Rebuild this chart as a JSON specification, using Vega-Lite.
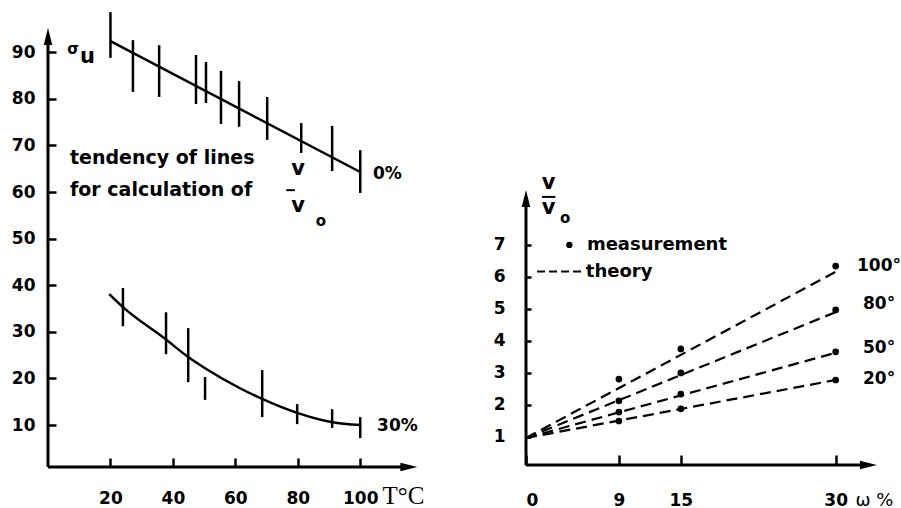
{
  "$schema": "https://vega.github.io/schema/vega-lite/v6.json",
  "background": "white",
  "padding": {"left": 11, "top": 10, "right": 0, "bottom": 0},
  "config": {
    "view": {"stroke": null},
    "axis": {"domain": false, "grid": false, "tickColor": "#000", "tickWidth": 2.5, "labelColor": "#000", "labelFont": "DejaVu Sans", "labelFontSize": 17, "labelFontWeight": "bold", "titleColor": "#000"}
  },
  "bounds": "flush",
  "spacing": 108,
  "hconcat": [
    {
      "width": 370,
      "height": 457,
      "encoding": {
        "x": {"field": "x", "type": "quantitative", "scale": {"domain": [0, 118.5], "nice": false, "zero": false},
          "axis": {"values": [20, 40, 60, 80, 100], "tickSize": -9, "labelPadding": 32, "title": "T°C", "titleFont": "Liberation Serif", "titleFontSize": 25, "titleFontWeight": "normal", "titleX": 334, "titleY": 28, "titleAlign": "left", "titleBaseline": "middle"}},
        "y": {"field": "y", "type": "quantitative", "scale": {"domain": [1, 99.06], "nice": false, "zero": false},
          "axis": {"values": [10, 20, 30, 40, 50, 60, 70, 80, 90], "tickSize": -8, "labelPadding": 21, "title": null}}
      },
      "layer": [
        {"data": {"values": [{"x": 0, "y": 1, "x2": 0, "y2": 92}, {"x": 0, "y": 1, "x2": 114, "y2": 1}]},
          "mark": {"type": "rule", "strokeWidth": 3, "color": "#000"},
          "encoding": {"x2": {"field": "x2"}, "y2": {"field": "y2"}}},
        {"data": {"values": [{"x": 0, "y": 95.2}]},
          "mark": {"type": "point", "filled": true, "opacity": 1, "color": "#000", "size": 289, "shape": "M0,0L0.5,2L-0.5,2Z"}},
        {"data": {"values": [{"x": 118.3, "y": 1}]},
          "mark": {"type": "point", "filled": true, "opacity": 1, "color": "#000", "size": 289, "shape": "M0,0L-2,-0.5L-2,0.5Z"}},
        {"data": {"values": [{"x": 20, "y": 92.4}, {"x": 100, "y": 64.3}]},
          "mark": {"type": "line", "color": "#000", "strokeWidth": 2.5}},
        {"data": {"values": [
            {"x": 19.6, "y": 38.1}, {"x": 24, "y": 35.3}, {"x": 37.5, "y": 28.5}, {"x": 44.9, "y": 24.6},
            {"x": 50.3, "y": 22.2}, {"x": 61.5, "y": 17.9}, {"x": 68.6, "y": 15.6}, {"x": 79.8, "y": 12.6},
            {"x": 91, "y": 10.6}, {"x": 100, "y": 10}]},
          "mark": {"type": "line", "color": "#000", "strokeWidth": 2.5, "interpolate": "monotone"}},
        {"data": {"values": [
            {"x": 20, "y": 88.8, "y2": 98.6}, {"x": 27.2, "y": 81.5, "y2": 92.6}, {"x": 35.6, "y": 80.4, "y2": 91.5},
            {"x": 47.4, "y": 78.9, "y2": 89.4}, {"x": 50.6, "y": 79.1, "y2": 87.9}, {"x": 55.4, "y": 74.6, "y2": 86},
            {"x": 61.2, "y": 74, "y2": 83.8}, {"x": 70.2, "y": 71.2, "y2": 80.4}, {"x": 81.1, "y": 68.4, "y2": 74.8},
            {"x": 91, "y": 64.5, "y2": 74.2}, {"x": 100, "y": 59.8, "y2": 69},
            {"x": 24, "y": 31.2, "y2": 39.4}, {"x": 37.8, "y": 25.2, "y2": 34.2}, {"x": 44.9, "y": 19.2, "y2": 30.8},
            {"x": 50.3, "y": 15.4, "y2": 20.3}, {"x": 68.6, "y": 11.7, "y2": 21.8}, {"x": 79.8, "y": 10.2, "y2": 14.5},
            {"x": 91, "y": 9.4, "y2": 13.4}, {"x": 100, "y": 7.2, "y2": 11.7}]},
          "mark": {"type": "rule", "color": "#000", "strokeWidth": 2.5},
          "encoding": {"y2": {"field": "y2"}}},
        {"data": {"values": [
            {"x": 7.05, "y": 67.2, "text": "tendency of lines"},
            {"x": 7.05, "y": 60.5, "text": "for calculation of"}]},
          "mark": {"type": "text", "align": "left", "baseline": "middle", "font": "DejaVu Sans", "fontSize": 19, "fontWeight": "bold", "color": "#000"},
          "encoding": {"text": {"field": "text"}}},
        {"data": {"values": [
            {"x": 104.1, "y": 63.9, "text": "0%"},
            {"x": 105.4, "y": 9.8, "text": "30%"}]},
          "mark": {"type": "text", "align": "left", "baseline": "middle", "font": "DejaVu Sans", "fontSize": 17, "fontWeight": "bold", "color": "#000"},
          "encoding": {"text": {"field": "text"}}},
        {"data": {"values": [
            {"x": 12.65, "y": 89.0, "text": "u"},
            {"x": 80.1, "y": 64.95, "text": "v"},
            {"x": 80.1, "y": 57.0, "text": "v"}]},
          "mark": {"type": "text", "align": "center", "baseline": "middle", "font": "DejaVu Sans", "fontSize": 21, "fontWeight": "bold", "color": "#000"},
          "encoding": {"text": {"field": "text"}}},
        {"data": {"values": [{"x": 76.3, "x2": 79.1, "y": 60.4}]},
          "mark": {"type": "rule", "color": "#000", "strokeWidth": 2},
          "encoding": {"x2": {"field": "x2"}}},
        {"data": {"values": [
            {"x": 8.0, "y": 90.6, "text": "σ"},
            {"x": 87.4, "y": 53.8, "text": "o"}]},
          "mark": {"type": "text", "align": "center", "baseline": "middle", "font": "DejaVu Sans", "fontSize": 15, "fontWeight": "bold", "color": "#000"},
          "encoding": {"text": {"field": "text"}}}
      ]
    },
    {
      "width": 353,
      "height": 455,
      "encoding": {
        "x": {"field": "x", "type": "quantitative", "scale": {"domain": [0, 34.2], "nice": false, "zero": false},
          "axis": {"values": [0, 9, 15, 30], "tickSize": -10, "labelPadding": 37, "title": "ω %", "titleFont": "DejaVu Sans", "titleFontSize": 18, "titleFontWeight": "normal", "titleX": 329, "titleY": 35, "titleAlign": "left", "titleBaseline": "middle"}},
        "y": {"field": "y", "type": "quantitative", "scale": {"domain": [0.125, 14.34], "nice": false, "zero": false},
          "axis": {"values": [1, 2, 3, 4, 5, 6, 7], "tickSize": -5, "labelPadding": 26, "title": null}}
      },
      "layer": [
        {"data": {"values": [{"x": 0, "y": 0.125, "x2": 0, "y2": 8.3}, {"x": 0, "y": 0.125, "x2": 32.5, "y2": 0.125}]},
          "mark": {"type": "rule", "strokeWidth": 3, "color": "#000"},
          "encoding": {"x2": {"field": "x2"}, "y2": {"field": "y2"}}},
        {"data": {"values": [{"x": 0, "y": 8.72}]},
          "mark": {"type": "point", "filled": true, "opacity": 1, "color": "#000", "size": 289, "shape": "M0,0L0.5,2L-0.5,2Z"}},
        {"data": {"values": [{"x": 34.0, "y": 0.125}]},
          "mark": {"type": "point", "filled": true, "opacity": 1, "color": "#000", "size": 289, "shape": "M0,0L-2,-0.5L-2,0.5Z"}},
        {"data": {"values": [
            {"series": "100°", "x": 0, "y": 0.97}, {"series": "100°", "x": 30, "y": 6.16},
            {"series": "80°", "x": 0, "y": 0.97}, {"series": "80°", "x": 30, "y": 4.9},
            {"series": "50°", "x": 0, "y": 0.97}, {"series": "50°", "x": 30, "y": 3.63},
            {"series": "20°", "x": 0, "y": 0.97}, {"series": "20°", "x": 30, "y": 2.78}]},
          "mark": {"type": "line", "color": "#000", "strokeWidth": 2.2, "strokeDash": [11, 6]},
          "encoding": {"detail": {"field": "series"}}},
        {"data": {"values": [
            {"series": "100°", "x": 9, "y": 2.81}, {"series": "100°", "x": 15, "y": 3.75}, {"series": "100°", "x": 30, "y": 6.34},
            {"series": "80°", "x": 9, "y": 2.13}, {"series": "80°", "x": 15, "y": 3.0}, {"series": "80°", "x": 30, "y": 4.97},
            {"series": "50°", "x": 9, "y": 1.78}, {"series": "50°", "x": 15, "y": 2.34}, {"series": "50°", "x": 30, "y": 3.66},
            {"series": "20°", "x": 9, "y": 1.5}, {"series": "20°", "x": 15, "y": 1.88}, {"series": "20°", "x": 30, "y": 2.78}]},
          "mark": {"type": "point", "filled": true, "opacity": 1, "color": "#000", "size": 45},
          "encoding": {"detail": {"field": "series"}}},
        {"data": {"values": [
            {"x": 32.07, "y": 6.34, "text": "100°"},
            {"x": 32.65, "y": 5.16, "text": "80°"},
            {"x": 32.65, "y": 3.78, "text": "50°"},
            {"x": 32.65, "y": 2.81, "text": "20°"}]},
          "mark": {"type": "text", "align": "left", "baseline": "middle", "font": "DejaVu Sans", "fontSize": 17, "fontWeight": "bold", "color": "#000"},
          "encoding": {"text": {"field": "text"}}},
        {"data": {"values": [{"x": 4.2, "y": 7.0}]},
          "mark": {"type": "point", "filled": true, "opacity": 1, "color": "#000", "size": 40}},
        {"data": {"values": [{"x": 1.07, "x2": 5.43, "y": 6.17}]},
          "mark": {"type": "rule", "color": "#000", "strokeWidth": 2.2, "strokeDash": [8, 4]},
          "encoding": {"x2": {"field": "x2"}}},
        {"data": {"values": [
            {"x": 5.9, "y": 7.0, "text": "measurement"},
            {"x": 5.8, "y": 6.17, "text": "theory"}]},
          "mark": {"type": "text", "align": "left", "baseline": "middle", "font": "DejaVu Sans", "fontSize": 18, "fontWeight": "bold", "color": "#000"},
          "encoding": {"text": {"field": "text"}}},
        {"data": {"values": [
            {"x": 2.2, "y": 8.92, "text": "v"},
            {"x": 2.2, "y": 8.14, "text": "v"}]},
          "mark": {"type": "text", "align": "center", "baseline": "middle", "font": "DejaVu Sans", "fontSize": 21, "fontWeight": "bold", "color": "#000"},
          "encoding": {"text": {"field": "text"}}},
        {"data": {"values": [{"x": 1.55, "x2": 2.85, "y": 8.5}]},
          "mark": {"type": "rule", "color": "#000", "strokeWidth": 2},
          "encoding": {"x2": {"field": "x2"}}},
        {"data": {"values": [{"x": 3.8, "y": 7.84, "text": "o"}]},
          "mark": {"type": "text", "align": "center", "baseline": "middle", "font": "DejaVu Sans", "fontSize": 15, "fontWeight": "bold", "color": "#000"},
          "encoding": {"text": {"field": "text"}}}
      ]
    }
  ]
}
